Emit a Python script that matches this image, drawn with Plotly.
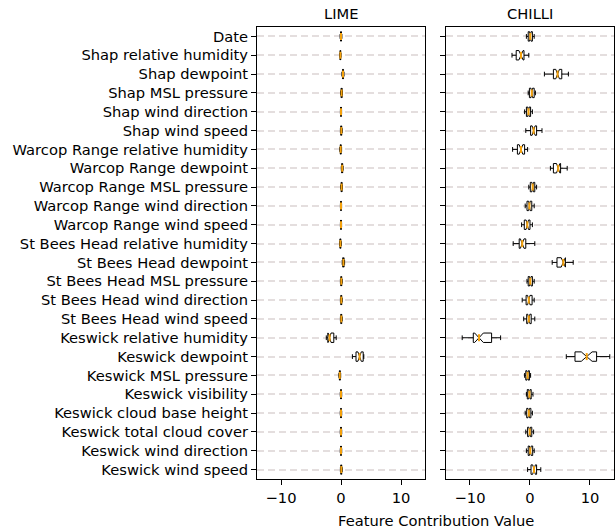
import plotly.graph_objects as go

features = [
    "Date", "Shap relative humidity", "Shap dewpoint", "Shap MSL pressure",
    "Shap wind direction", "Shap wind speed", "Warcop Range relative humidity",
    "Warcop Range dewpoint", "Warcop Range MSL pressure", "Warcop Range wind direction",
    "Warcop Range wind speed", "St Bees Head relative humidity", "St Bees Head dewpoint",
    "St Bees Head MSL pressure", "St Bees Head wind direction", "St Bees Head wind speed",
    "Keswick relative humidity", "Keswick dewpoint", "Keswick MSL pressure",
    "Keswick visibility", "Keswick cloud base height", "Keswick total cloud cover",
    "Keswick wind direction", "Keswick wind speed",
]

# LIME stats
lime_lo  = [-0.15, -0.2, 0.15, -0.05, -0.1, -0.1, -0.2, 0.05, -0.05, -0.1, -0.1, -0.25, 0.2, -0.1, -0.1, -0.1, -2.45, 1.9, -0.35, -0.12, -0.12, -0.12, -0.12, -0.1]
lime_q1  = [-0.08, -0.15, 0.25, 0.02, -0.05, -0.03, -0.12, 0.12, 0.03, -0.05, -0.05, -0.17, 0.3, -0.02, -0.02, -0.02, -2.2, 2.5, -0.27, -0.06, -0.06, -0.06, -0.06, -0.02]
lime_med = [0.0, -0.1, 0.33, 0.1, 0.0, 0.05, -0.05, 0.2, 0.1, 0.0, 0.0, -0.1, 0.4, 0.05, 0.05, 0.05, -1.9, 3.1, -0.2, 0.0, 0.0, 0.0, 0.0, 0.05]
lime_q3  = [0.08, -0.05, 0.42, 0.18, 0.05, 0.12, 0.02, 0.28, 0.17, 0.05, 0.05, -0.03, 0.5, 0.12, 0.12, 0.12, -1.2, 3.7, -0.13, 0.06, 0.06, 0.06, 0.06, 0.12]
lime_hi  = [0.15, 0.0, 0.5, 0.25, 0.1, 0.2, 0.1, 0.35, 0.25, 0.1, 0.1, 0.05, 0.6, 0.2, 0.2, 0.2, -0.8, 3.8, -0.05, 0.12, 0.12, 0.12, 0.12, 0.2]
lime_notch = [0.04, 0.03, 0.04, 0.04, 0.03, 0.04, 0.03, 0.04, 0.04, 0.03, 0.03, 0.03, 0.05, 0.04, 0.04, 0.04, 0.24, 0.28, 0.03, 0.03, 0.03, 0.03, 0.03, 0.04]

# CHILLI stats
chilli_lo  = [-0.6, -3.0, 2.4, -0.3, -0.9, -0.7, -2.9, 3.4, -0.2, -0.8, -1.4, -2.8, 3.7, -0.5, -1.3, -1.05, -11.3, 6.05, -0.9, -0.6, -0.8, -0.7, -0.6, -0.4]
chilli_q1  = [-0.3, -2.3, 3.9, -0.1, -0.6, 0.1, -2.1, 3.9, 0.05, -0.5, -0.95, -1.8, 4.5, -0.3, -0.65, -0.55, -9.45, 7.5, -0.7, -0.45, -0.55, -0.4, -0.3, 0.17]
chilli_med = [0.05, -1.5, 4.6, 0.3, -0.25, 0.6, -1.5, 4.7, 0.45, -0.1, -0.45, -1.3, 5.55, 0.05, -0.2, -0.2, -8.5, 9.45, -0.4, -0.1, -0.2, -0.05, 0.05, 0.67]
chilli_q3  = [0.4, -1.0, 5.3, 0.7, 0.1, 1.1, -0.9, 5.1, 0.8, 0.3, 0.0, -0.7, 5.9, 0.4, 0.35, 0.2, -6.4, 11.1, -0.1, 0.2, 0.15, 0.3, 0.45, 1.1]
chilli_hi  = [0.7, -0.2, 6.4, 0.9, 0.4, 2.0, -0.4, 6.2, 1.1, 0.7, 0.4, 0.8, 7.2, 0.7, 0.7, 0.8, -4.9, 13.3, 0.1, 0.5, 0.4, 0.6, 0.7, 1.8]
chilli_notch = [0.12, 0.35, 0.3, 0.13, 0.12, 0.25, 0.3, 0.28, 0.13, 0.13, 0.2, 0.3, 0.35, 0.13, 0.2, 0.18, 0.72, 0.9, 0.12, 0.13, 0.13, 0.14, 0.15, 0.22]

panels = [
    ("LIME", lime_lo, lime_q1, lime_med, lime_q3, lime_hi, lime_notch),
    ("CHILLI", chilli_lo, chilli_q1, chilli_med, chilli_q3, chilli_hi, chilli_notch),
]

MEDIAN_COLOR = "#f5a20c"
FONT = "DejaVu Sans"
FS = 14.7

fig = go.Figure()
for i, (name, lo, q1, med, q3, hi, notch) in enumerate(panels):
    xa = "x" if i == 0 else "x2"
    ya = "y" if i == 0 else "y2"
    fig.add_trace(go.Box(
        y=features, lowerfence=lo, q1=q1, median=med, q3=q3, upperfence=hi,
        notchspan=notch, notched=True, notchwidth=0.5,
        orientation="h", width=0.5, whiskerwidth=0.5,
        fillcolor="white", line=dict(color="black", width=1),
        boxpoints=False, hoverinfo="skip", showlegend=False,
        xaxis=xa, yaxis=ya,
    ))
    fig.add_trace(go.Scatter(
        x=med, y=features, mode="markers",
        marker=dict(symbol="line-ns", size=5, line=dict(color=MEDIAN_COLOR, width=2)),
        hoverinfo="skip", showlegend=False, xaxis=xa, yaxis=ya,
    ))

common_x = dict(range=[-14, 14], tickvals=[-10, 0, 10], ticktext=["\u221210", "0", "10"],
                showgrid=False, zeroline=False, showline=True, linecolor="black", linewidth=1,
                mirror=True, ticks="outside", ticklen=5, tickwidth=1, tickcolor="black",
                tickfont=dict(size=FS, color="black", family=FONT))
common_y = dict(type="category", categoryorder="array", categoryarray=features,
                range=[23.5, -0.5], showgrid=True, gridcolor="#e4dede", gridwidth=1.6,
                griddash="7px,4px", zeroline=False, showline=True, linecolor="black",
                linewidth=1, mirror=True, ticks="outside", ticklen=5, tickwidth=1,
                tickcolor="black", tickfont=dict(size=FS, color="black", family=FONT))

fig.update_layout(
    width=616, height=531,
    margin=dict(l=257, r=2, t=27, b=52),
    plot_bgcolor="white", paper_bgcolor="white",
    font=dict(family=FONT, size=FS, color="black"),
    xaxis=dict(domain=[0, 0.4706], **common_x),
    xaxis2=dict(domain=[0.5294, 1], **common_x),
    yaxis=dict(anchor="x", **common_y),
    yaxis2=dict(anchor="x2", showticklabels=False, **common_y),
    annotations=[
        dict(text="LIME", x=0.2353, y=1, xref="paper", yref="paper", xanchor="center",
             yanchor="bottom", yshift=3, showarrow=False, font=dict(size=FS, family=FONT)),
        dict(text="CHILLI", x=0.7647, y=1, xref="paper", yref="paper", xanchor="center",
             yanchor="bottom", yshift=3, showarrow=False, font=dict(size=FS, family=FONT)),
        dict(text="Feature Contribution Value", x=0.5, y=0, xref="paper", yref="paper",
             xanchor="center", yanchor="top", yshift=-31, showarrow=False,
             font=dict(size=FS, family=FONT)),
    ],
)

fig.write_html("out.html")
